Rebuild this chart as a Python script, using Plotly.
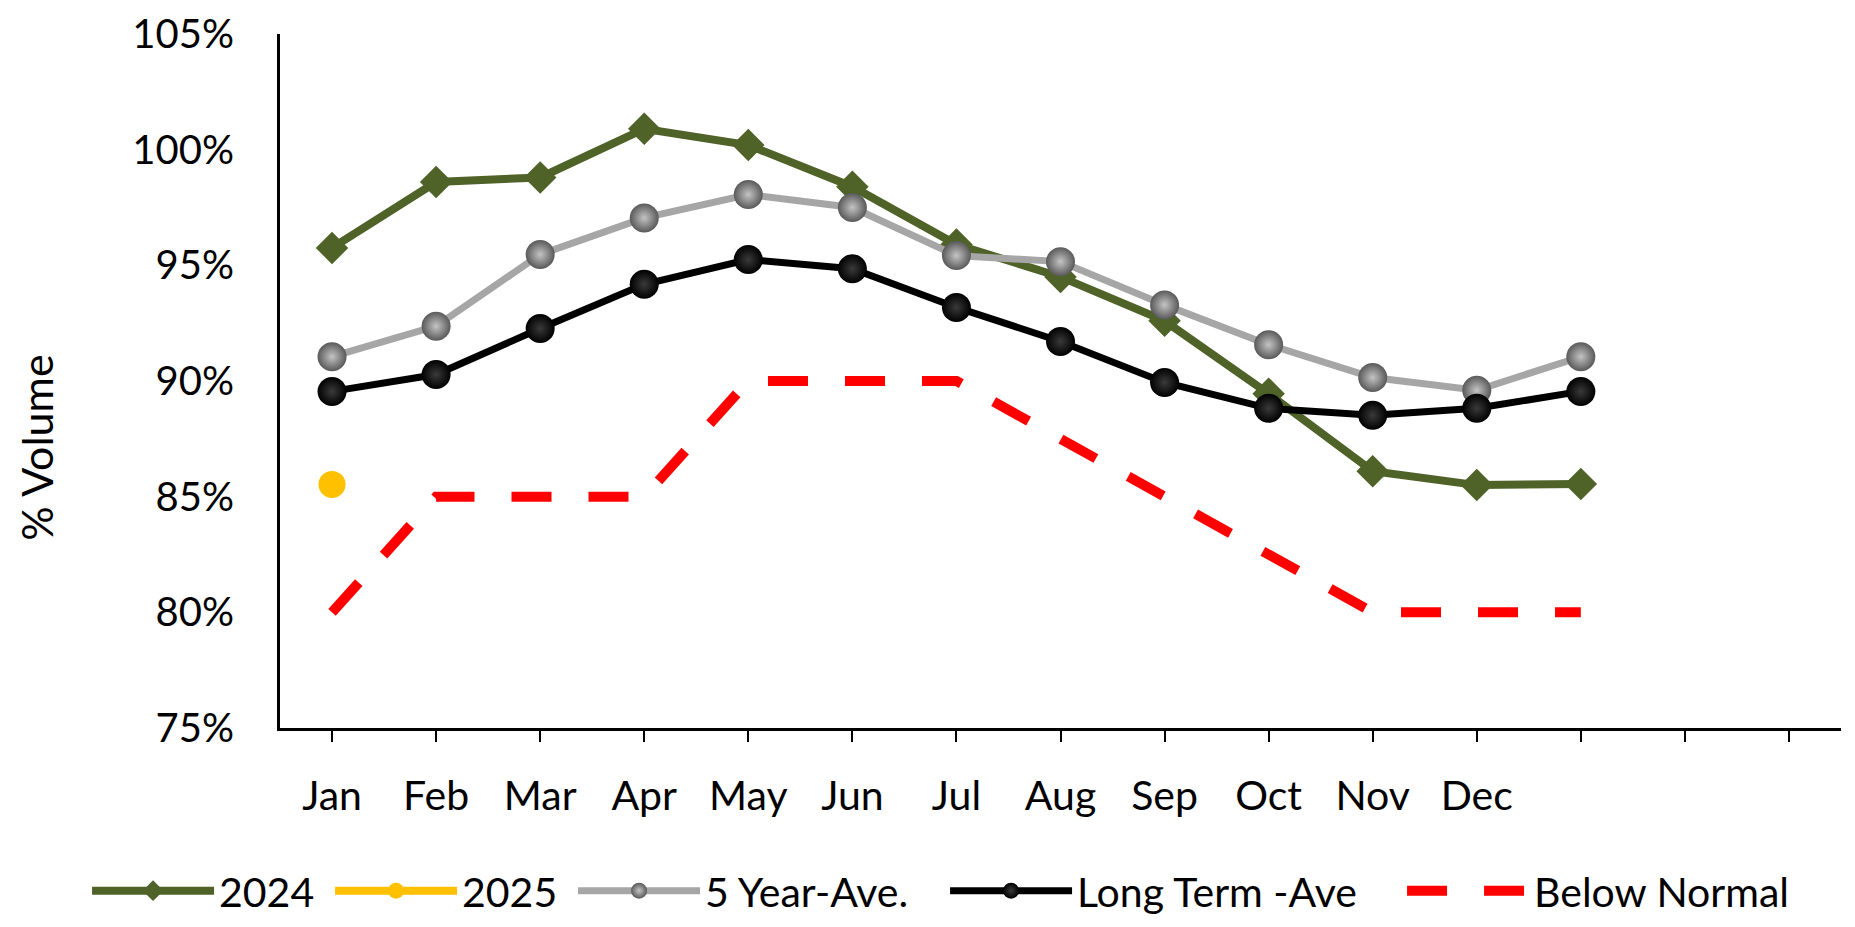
import plotly.graph_objects as go

# ---- data (values in %) ----
MONTHS = ["Jan", "Feb", "Mar", "Apr", "May", "Jun", "Jul", "Aug", "Sep", "Oct", "Nov", "Dec"]
TICK_LABELS = MONTHS + ["", "", ""]

y2024 = [95.75, 98.6, 98.8, 100.9, 100.2, 98.4, 95.9, 94.5, 92.6, 89.45, 86.1, 85.5, 85.55]
y2025 = [85.53]
five_year_ave = [91.05, 92.37, 95.47, 97.05, 98.06, 97.5, 95.42, 95.16, 93.29, 91.57, 90.15, 89.6, 91.05]
long_term_ave = [89.55, 90.28, 92.27, 94.18, 95.25, 94.85, 93.18, 91.71, 89.94, 88.82, 88.52, 88.82, 89.55]
below_normal = [80, 85, 85, 85, 90, 90, 90, 87.5, 85, 82.5, 80, 80, 80]

Y_TICKS = [75, 80, 85, 90, 95, 100, 105]

FONT = "Lato, 'Open Sans', sans-serif"


def idx(values):
    return list(range(len(values)))


fig = go.Figure()

fig.add_trace(go.Scatter(
    x=idx(y2024), y=y2024, name="2024", mode="lines+markers",
    line=dict(color="#4F6228", width=8),
    marker=dict(symbol="diamond", size=25, color="#4F6228", line=dict(width=0)),
    legendwidth=106,
))
fig.add_trace(go.Scatter(
    x=idx(y2025), y=y2025, name="2025", mode="lines+markers",
    line=dict(color="#FFC000", width=8),
    marker=dict(symbol="circle", size=27, color="#FFC000", line=dict(width=0)),
    legendwidth=106,
))
fig.add_trace(go.Scatter(
    x=idx(five_year_ave), y=five_year_ave, name="5 Year-Ave.", mode="lines+markers",
    line=dict(color="#A6A6A6", width=7),
    marker=dict(symbol="circle", size=29, color="#595959", line=dict(width=0),
                gradient=dict(type="radial", color="#C4C4C4")),
    legendwidth=235,
))
fig.add_trace(go.Scatter(
    x=idx(long_term_ave), y=long_term_ave, name="Long Term -Ave", mode="lines+markers",
    line=dict(color="#000000", width=7),
    marker=dict(symbol="circle", size=29, color="#000000", line=dict(width=0),
                gradient=dict(type="radial", color="#3A3A3A")),
    legendwidth=320,
))
fig.add_trace(go.Scatter(
    x=idx(below_normal), y=below_normal, name="Below Normal", mode="lines",
    line=dict(color="#FF0000", width=10, dash="40px,37px"),
    legendwidth=285,
))

fig.update_layout(
    width=1839, height=911,
    margin=dict(l=272, r=6, t=26, b=191, autoexpand=False),
    paper_bgcolor="white", plot_bgcolor="white",
    font=dict(family=FONT, size=41, color="#000000"),
    showlegend=True,
    legend=dict(
        orientation="h", x=-0.1236, xanchor="left", y=-0.2349, yanchor="middle",
        font=dict(family=FONT, size=41, color="#000000"),
        itemwidth=122, traceorder="normal", bgcolor="rgba(0,0,0,0)",
    ),
    xaxis=dict(
        range=[-0.5, 14.5], automargin=False,
        tickmode="array", tickvals=list(range(len(TICK_LABELS))), ticktext=TICK_LABELS,
        showline=True, linecolor="#000000", linewidth=3,
        ticks="outside", ticklen=11, tickwidth=2, tickcolor="#000000",
        showgrid=False, zeroline=False,
        tickfont=dict(family=FONT, size=41, color="#000000"),
        ticklabelstandoff=19,
    ),
    yaxis=dict(
        range=[75, 105], automargin=False,
        tickmode="array", tickvals=Y_TICKS, ticktext=[f"{v}%" for v in Y_TICKS],
        showline=True, linecolor="#000000", linewidth=3,
        ticks="", showgrid=False, zeroline=False,
        tickfont=dict(family=FONT, size=40, color="#000000"),
        ticklabelstandoff=35, ticklabeloverflow="allow",
    ),
    annotations=[dict(
        text="% Volume", textangle=-90, showarrow=False,
        xref="paper", yref="paper", x=-0.1557, y=0.4037,
        xanchor="center", yanchor="middle",
        font=dict(family=FONT, size=43, color="#000000"),
    )],
)

fig.write_html("out.html")
